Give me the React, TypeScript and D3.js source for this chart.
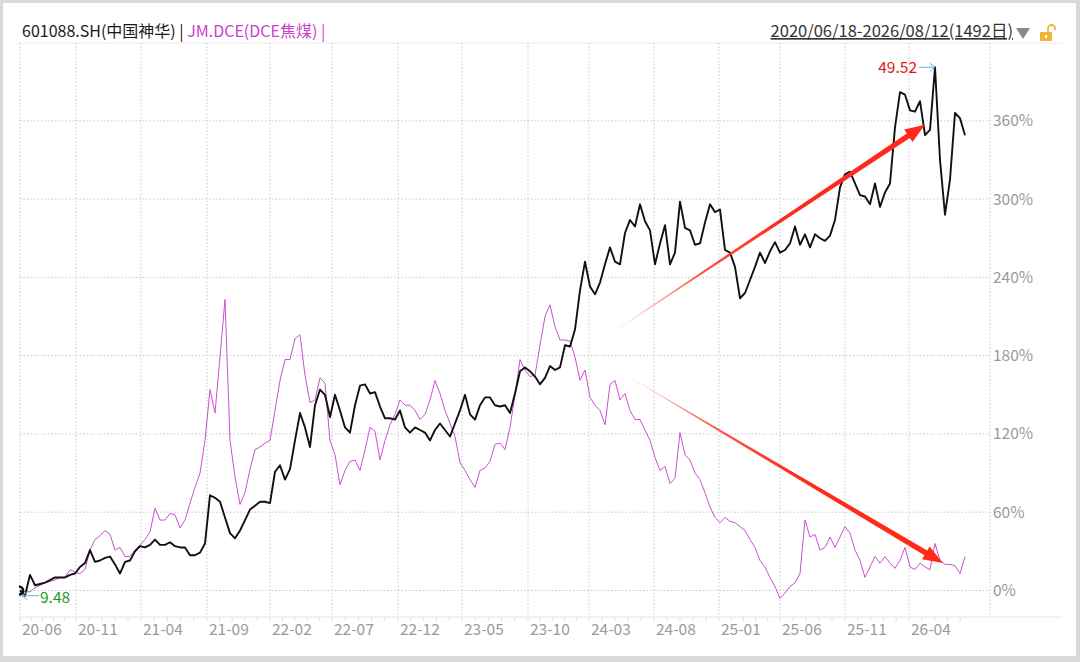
import React from "react";
import * as d3 from "d3";

// 601088.SH 中国神华, cumulative change in %, one sample every ~8 trading days
const shenhua: number[] = [
    0, -4, 12, 4, 5, 6, 8, 10, 10, 10,
    12, 13, 18, 21, 31, 22, 23, 25, 26, 20,
    13, 22, 23, 30, 34, 33, 35, 39, 35, 35,
    37, 34, 33, 33, 27, 27, 29, 36, 73, 71,
    68, 56, 44, 40, 46, 54, 62, 65, 68, 68,
    67, 91, 96, 85, 93, 115, 136, 125, 110, 142,
    154, 150, 133, 150, 138, 125, 121, 142, 157, 158,
    151, 152, 141, 132, 132, 131, 138, 125, 121, 125,
    123, 121, 115, 123, 128, 123, 118, 128, 138, 150,
    135, 131, 142, 148, 148, 142, 141, 142, 136, 151,
    168, 171, 168, 164, 158, 163, 172, 169, 171, 188,
    187, 200, 230, 252, 233, 227, 236, 250, 263, 252,
    250, 274, 284, 279, 296, 283, 276, 250, 266, 280,
    250, 259, 298, 278, 276, 265, 266, 282, 296, 290,
    292, 261, 259, 248, 224, 228, 238, 248, 259, 251,
    260, 267, 259, 261, 266, 279, 265, 273, 263, 273,
    270, 268, 272, 284, 309, 319, 321, 312, 303, 302,
    296, 312, 294, 305, 312, 355, 382, 380, 368, 367,
    375, 349, 353, 401, 330, 288, 315, 366, 362, 349,
];

// JM.DCE 焦煤, same sampling
const coking: number[] = [
    0, -1, -1, 2, 4, 6, 7, 8, 10, 10,
    16, 14, 13, 16, 31, 39, 42, 46, 43, 31,
    33, 26, 26, 31, 35, 39, 45, 63, 54, 54,
    59, 58, 48, 54, 67, 79, 90, 115, 154, 136,
    179, 223, 115, 87, 66, 75, 93, 108, 110, 113,
    115, 138, 161, 177, 177, 193, 196, 165, 144, 146,
    163, 159, 115, 104, 81, 92, 99, 100, 92, 108,
    125, 122, 100, 115, 127, 135, 146, 142, 142, 138,
    131, 135, 146, 161, 151, 138, 128, 118, 98, 92,
    85, 79, 92, 94, 99, 112, 113, 108, 125, 150,
    177, 169, 164, 165, 188, 210, 219, 202, 192, 192,
    191, 179, 161, 169, 148, 142, 138, 127, 158, 161,
    146, 151, 138, 131, 131, 123, 115, 102, 92, 95,
    82, 86, 121, 104, 100, 90, 85, 75, 64, 56,
    52, 56, 53, 52, 49, 46, 39, 33, 23, 18,
    10, 3, -6, -2, 3, 6, 13, 54, 41, 43,
    31, 33, 41, 33, 41, 49, 44, 31, 23, 10,
    18, 26, 21, 26, 21, 17, 23, 33, 18, 16,
    21, 18, 16, 36, 23, 20, 20, 19, 13, 26,
];

const xTickLabels = ["20-06", "20-11", "21-04", "21-09", "22-02", "22-07", "22-12", "23-05",
    "23-10", "24-03", "24-08", "25-01", "25-06", "25-11", "26-04"];
// position of each label in sample units
const xTickAt = [0, 11.2, 24.2, 37.4, 50, 62.4, 75.6, 88.4, 101.6, 113.8, 126.8, 139.8, 152, 165, 177.8];
const yTicks = [0, 60, 120, 180, 240, 300, 360];

const maxPrice = "49.52";
const minPrice = "9.48";

// annotation arrows, [sample, %]
const arrowUp = { from: [117, 194], to: [181, 357] };
const arrowDown = { from: [120, 168], to: [184.6, 21] };

const font = "'Noto Sans CJK SC', 'Noto Sans', sans-serif";

function Arrow(props: { id: string, p0: [number, number], p1: [number, number] }) {
    const { id, p0, p1 } = props;
    const dx = p1[0] - p0[0], dy = p1[1] - p0[1];
    const len = Math.hypot(dx, dy);
    const ux = dx / len, uy = dy / len;
    const nx = -uy, ny = ux;
    const headLen = 20, headW = 7.5, w0 = 0.2, w1 = 2.8;
    const bx = p1[0] - ux * headLen, by = p1[1] - uy * headLen;
    const pts: [number, number][] = [
        [p0[0] + nx * w0, p0[1] + ny * w0],
        [bx + nx * w1, by + ny * w1],
        [bx + nx * headW, by + ny * headW],
        p1,
        [bx - nx * headW, by - ny * headW],
        [bx - nx * w1, by - ny * w1],
        [p0[0] - nx * w0, p0[1] - ny * w0],
    ];
    return <g>
        <defs>
            <linearGradient id={id} gradientUnits="userSpaceOnUse" x1={p0[0]} y1={p0[1]} x2={p1[0]} y2={p1[1]}>
                <stop offset="0" stopColor="#ff2a1a" stopOpacity={0} />
                <stop offset="0.3" stopColor="#ff2a1a" stopOpacity={0.8} />
                <stop offset="0.55" stopColor="#ff2a1a" stopOpacity={1} />
            </linearGradient>
        </defs>
        <polygon points={pts.map(p => p.join(",")).join(" ")} fill={`url(#${id})`} />
    </g>;
}

export default function App() {
    const W = 1080, H = 662;
    const x = d3.scaleLinear([0, shenhua.length - 1], [20, 965]);
    const y = d3.scaleLinear([0, 360], [590.5, 120.8]);
    const top = 43, axisY = 617;
    const plotRight = x(194);

    const line = d3.line<number>().x((d, i) => x(i)).y(d => y(d));

    // monthly minor ticks between the labelled months
    const minor: number[] = [];
    for (let k = 0; k < xTickAt.length; k++) {
        const a = xTickAt[k];
        const step = k < xTickAt.length - 1 ? (xTickAt[k + 1] - a) / 5 : (xTickAt[k] - xTickAt[k - 1]) / 5;
        for (let m = 0; m < 5; m++) {
            const v = a + m * step;
            if (x(v) < plotRight + 40) minor.push(v);
        }
    }

    const iMax = d3.maxIndex(shenhua);
    const iMin = d3.minIndex(shenhua);
    const mx = x(iMax), my = y(shenhua[iMax]);
    const nx0 = x(iMin), ny0 = y(shenhua[iMin]);

    return <div style={{ position: "absolute", left: 0, top: 0 }}>
        <svg width={W} height={H} style={{ display: "block", fontFamily: font }}>
            <rect x={0} y={0} width={W} height={H} fill="#d9d9d9" />
            <rect x={3} y={3} width={W - 7} height={H - 9} fill="#ffffff" />

            {/* header */}
            <text x={22} y={37} fontSize={16} fill="#1a1a1a">
                601088.SH(中国神华) <tspan fill="#1a1a1a">| </tspan>
                <tspan fill="#c93fc9">JM.DCE(DCE焦煤) |</tspan>
            </text>
            <text x={1013} y={37} fontSize={16.5} fill="#333" textAnchor="end" textDecoration="underline">
                2020/06/18-2026/08/12(1492日)
            </text>
            <path d="M1016,28 L1030,28 L1023,39 Z" fill="#8a8a8a" />
            <g>
                <rect x={1040} y={32} width={12} height={9} rx={1} fill="#f2b233" />
                <path d="M1048,32 V28.5 a3.5,3.5 0 0 1 7,0 V30" fill="none" stroke="#f2b233" strokeWidth={1.8} />
                <rect x={1045} y={35} width={2} height={3} fill="#fff" />
            </g>
            <line x1={18} x2={1062} y1={top} y2={top} stroke="#ececec" />

            {/* grid */}
            {xTickAt.map((t, i) => (
                <line key={"vx" + i} x1={x(t)} x2={x(t)} y1={top} y2={axisY}
                    stroke="#c8c8c8" strokeDasharray="1.5,2" />
            ))}
            <line x1={plotRight} x2={plotRight} y1={top} y2={axisY} stroke="#c8c8c8" strokeDasharray="1.5,2" />
            {yTicks.map(t => (
                <g key={"gy" + t}>
                    <line x1={20} x2={plotRight} y1={y(t)} y2={y(t)} stroke="#c8c8c8" strokeDasharray="1.5,2" />
                    <text x={993} y={y(t)} dy="0.35em" fontSize={15.5} fill="#9a9a9a">{t}%</text>
                </g>
            ))}

            {/* x axis */}
            <line x1={18} x2={1062} y1={axisY} y2={axisY} stroke="#e4e4e4" />
            {minor.map((t, i) => (
                <line key={"mt" + i} x1={x(t)} x2={x(t)} y1={axisY} y2={axisY + 4} stroke="#dcdcdc" />
            ))}
            {xTickLabels.map((lab, i) => (
                <text key={lab} x={x(xTickAt[i]) + 2} y={630} dy="0.35em" fontSize={15.5} fill="#9a9a9a">{lab}</text>
            ))}

            {/* series */}
            <path d={line(coking)!} fill="none" stroke="#c850d0" strokeWidth={1} strokeLinejoin="round" />
            <path d={line(shenhua)!} fill="none" stroke="#111" strokeWidth={1.9} strokeLinejoin="round" />

            {/* start marker */}
            <path d={`M${x(0) - 1},${y(0) - 4} a4,4 0 1 1 0,8`} fill="none" stroke="#111" strokeWidth={2.6} />

            {/* max / min labels */}
            <line x1={mx - 16} x2={mx} y1={my} y2={my} stroke="#6ab2cf" />
            <path d={`M${mx - 5},${my - 4} L${mx},${my} L${mx - 5},${my + 4}`} fill="none" stroke="#6ab2cf" />
            <text x={mx - 18} y={my} dy="0.35em" fontSize={15.5} fill="#e01818" textAnchor="end">{maxPrice}</text>

            <line x1={nx0 - 3} x2={nx0 + 14} y1={ny0} y2={ny0} stroke="#6ab2cf" />
            <path d={`M${nx0 + 2},${ny0 - 4} L${nx0 - 3},${ny0} L${nx0 + 2},${ny0 + 4}`} fill="none" stroke="#6ab2cf" />
            <text x={nx0 + 15} y={ny0 + 2} dy="0.35em" fontSize={15.5} fill="#1e9a1e">{minPrice}</text>

            {/* trend arrows */}
            <Arrow id="gUp" p0={[x(arrowUp.from[0]), y(arrowUp.from[1])]} p1={[x(arrowUp.to[0]), y(arrowUp.to[1])]} />
            <Arrow id="gDown" p0={[x(arrowDown.from[0]), y(arrowDown.from[1])]} p1={[x(arrowDown.to[0]), y(arrowDown.to[1])]} />
        </svg>
    </div>;
}
